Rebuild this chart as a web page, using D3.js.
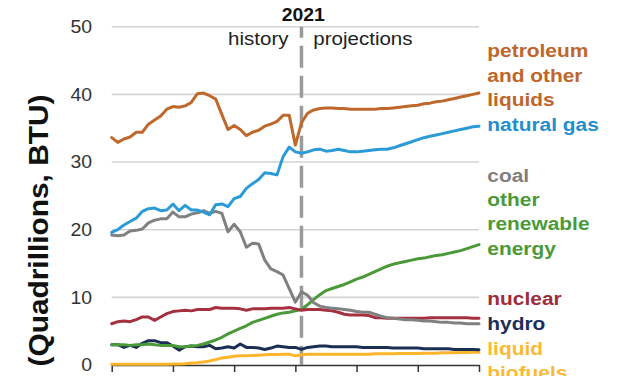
<!DOCTYPE html>
<html><head><meta charset="utf-8">
<script src="https://cdn.jsdelivr.net/npm/d3@7/dist/d3.min.js"></script>
<style>body{margin:0;background:#fff;}svg{display:block;font-family:"Liberation Sans",Arial,sans-serif;}</style>
</head><body><svg id="c" width="627" height="376"></svg>
<script>
const startYear = 1990, endYear = 2050, splitYear = 2021;
const yTicks = [0, 10, 20, 30, 40, 50];
const xTicks = [1990, 2000, 2010, 2020, 2030, 2040, 2050];

const petroleum = [33.6,32.9,33.4,33.7,34.4,34.4,35.6,36.2,36.8,37.8,38.2,38.1,38.3,38.8,40.1,40.2,39.8,39.3,37.0,34.8,35.4,34.8,33.9,34.4,34.7,35.3,35.6,36.0,36.9,36.9,32.5,35.8,
  37.2,37.7,37.9,38.0,38.0,37.9,37.9,37.8,37.8,37.8,37.8,37.8,37.9,37.9,38.0,38.1,38.2,38.3,38.4,38.6,38.7,38.9,39.0,39.2,39.4,39.6,39.8,40.0,40.2];
const naturalGas = [19.6,20.0,20.7,21.2,21.7,22.7,23.1,23.2,22.8,22.9,23.8,22.8,23.6,22.9,22.9,22.6,22.2,23.7,23.8,23.4,24.6,24.9,26.1,26.8,27.4,28.4,28.3,28.1,30.8,32.2,31.5,31.3,
  31.5,31.8,31.9,31.6,31.7,31.9,31.7,31.5,31.5,31.6,31.7,31.8,31.9,31.9,32.1,32.4,32.7,33.0,33.3,33.6,33.8,34.0,34.2,34.4,34.6,34.8,35.0,35.2,35.3];
const coal = [19.2,19.1,19.2,19.8,19.9,20.1,21.0,21.4,21.6,21.6,22.6,21.9,21.9,22.3,22.5,22.8,22.4,22.7,22.4,19.7,20.8,19.7,17.4,18.0,17.9,15.5,14.2,13.8,13.3,11.3,9.3,10.8,
  10.3,9.2,8.7,8.5,8.4,8.3,8.2,8.1,7.9,7.8,7.8,7.5,7.2,7.0,6.9,6.8,6.7,6.7,6.6,6.5,6.5,6.4,6.3,6.3,6.2,6.2,6.1,6.1,6.1];
const otherRenewable = [3.0,3.0,3.0,2.9,3.0,3.0,3.1,3.0,2.9,2.9,2.9,2.7,2.7,2.8,2.9,3.1,3.4,3.7,4.1,4.6,5.0,5.4,5.8,6.3,6.6,6.9,7.2,7.5,7.7,7.8,8.0,8.2,
  8.9,9.7,10.4,11.0,11.3,11.6,11.9,12.3,12.7,13.0,13.4,13.8,14.2,14.6,14.9,15.1,15.3,15.5,15.7,15.8,16.0,16.2,16.3,16.5,16.7,16.9,17.2,17.5,17.8];
const nuclear = [6.1,6.4,6.5,6.4,6.7,7.1,7.1,6.6,7.1,7.6,7.9,8.0,8.1,8.0,8.2,8.2,8.2,8.5,8.4,8.4,8.4,8.3,8.1,8.3,8.3,8.3,8.4,8.4,8.4,8.5,8.3,8.1,
  8.2,8.2,8.2,8.1,8.0,7.8,7.5,7.4,7.4,7.4,7.3,7.0,7.0,6.9,6.9,6.9,6.9,6.9,6.9,6.9,7.0,7.0,7.0,7.0,7.0,7.0,7.0,6.9,6.9];
const hydro = [3.0,3.0,2.6,2.9,2.6,3.2,3.6,3.6,3.3,3.3,2.8,2.2,2.7,2.8,2.7,2.7,2.9,2.4,2.5,2.7,2.5,3.1,2.6,2.6,2.5,2.3,2.5,2.8,2.7,2.6,2.6,2.3,
  2.6,2.7,2.8,2.8,2.7,2.7,2.7,2.7,2.7,2.6,2.6,2.6,2.6,2.6,2.5,2.5,2.5,2.5,2.5,2.4,2.4,2.4,2.4,2.4,2.3,2.3,2.3,2.3,2.25];
const liquidBiofuels = [0.1,0.1,0.1,0.1,0.1,0.1,0.1,0.1,0.1,0.1,0.15,0.15,0.2,0.3,0.35,0.45,0.6,0.8,1.05,1.15,1.3,1.35,1.35,1.4,1.45,1.5,1.55,1.55,1.6,1.6,1.35,1.5,
  1.6,1.6,1.6,1.6,1.6,1.6,1.6,1.6,1.6,1.6,1.6,1.65,1.65,1.65,1.65,1.7,1.7,1.7,1.7,1.75,1.75,1.75,1.8,1.8,1.8,1.85,1.85,1.9,1.9];

const seriesNames = ["liquid biofuels","hydro","other renewable energy","nuclear","coal","natural gas","petroleum and other liquids"];
const seriesValues = [liquidBiofuels, hydro, otherRenewable, nuclear, coal, naturalGas, petroleum];
const lineColors = ["#FDB52B","#1B2F55","#4B9A39","#A5303F","#808080","#2B9BD7","#C0682C"];
const labelLines = [["liquid","biofuels"],["hydro"],["other","renewable","energy"],["nuclear"],["coal"],["natural gas"],["petroleum","and other","liquids"]];
const labelColors = ["#FDB933","#1E2D5A","#4A9A38","#A02B3B","#7F7F7F","#1F8FD0","#C0662B"];
const labelBaselines = [355, 330, 206, 305, 181.5, 131, 57.3];

const yTitle = "(Quadrillions, BTU)";
const splitLabel = "2021", leftLabel = "history", rightLabel = "projections";

const svg = d3.select("#c");
const x = d3.scaleLinear().domain([startYear, endYear]).range([111.7, 479]);
const y = d3.scaleLinear().domain([0, 50]).range([365, 26.7]);
const SX = 1.11;

// gridlines
svg.append("g").selectAll("line").data(yTicks.filter(d => d > 0)).join("line")
  .attr("x1", x(startYear)).attr("x2", x(endYear))
  .attr("y1", d => y(d)).attr("y2", d => y(d))
  .attr("stroke", "#d3d3d8").attr("stroke-width", 1.6);

// y tick labels
svg.append("g").selectAll("text").data(yTicks).join("text")
  .attr("transform", d => `translate(92,${y(d) + 6.3}) scale(${SX},1)`)
  .attr("text-anchor", "end").attr("font-size", 17.5).attr("fill", "#333")
  .text(d => d);

// y title
svg.append("text")
  .attr("transform", "translate(48,230.5) rotate(-90)")
  .attr("text-anchor", "middle").attr("font-size", 27.5).attr("font-weight", "bold")
  .attr("fill", "#111").attr("textLength", 272).attr("lengthAdjust", "spacingAndGlyphs")
  .text(yTitle);

// x axis
const xAxis = svg.append("g").attr("transform", `translate(0,${y(0)})`)
  .call(d3.axisBottom(x).tickValues(xTicks).tickSize(7).tickSizeOuter(0).tickFormat(""));
xAxis.select(".domain").attr("stroke", "#333").attr("stroke-width", 1.5);
xAxis.selectAll(".tick line").attr("stroke", "#333").attr("stroke-width", 1.5);

// dashed split line
svg.append("line")
  .attr("x1", x(splitYear)).attr("x2", x(splitYear))
  .attr("y1", y(50)).attr("y2", y(0))
  .attr("stroke", "#9a9a9a").attr("stroke-width", 3.5)
  .attr("stroke-dasharray", "22 8").attr("stroke-dashoffset", 11);

// split labels
svg.append("text").attr("transform", `translate(303.3,20.7) scale(${SX},1)`)
  .attr("text-anchor", "middle").attr("font-size", 17.5).attr("font-weight", "bold").attr("fill", "#111")
  .text(splitLabel);
svg.append("text").attr("transform", `translate(288.5,45) scale(${SX},1)`)
  .attr("text-anchor", "end").attr("font-size", 18.5).attr("fill", "#222").text(leftLabel);
svg.append("text").attr("transform", `translate(313.3,45) scale(${SX},1)`)
  .attr("text-anchor", "start").attr("font-size", 18.5).attr("fill", "#222").text(rightLabel);

// lines
const line = d3.line().x((d, i) => x(startYear + i)).y(d => y(d));
svg.append("g").selectAll("path").data(seriesValues).join("path")
  .attr("d", d => line(d))
  .attr("fill", "none")
  .attr("stroke", (d, i) => lineColors[i])
  .attr("stroke-width", 3)
  .attr("stroke-linejoin", "round").attr("stroke-linecap", "round");

// right labels
const lg = svg.append("g");
seriesNames.forEach((name, i) => {
  labelLines[i].forEach((t, j) => {
    lg.append("text")
      .attr("transform", `translate(487.3,${labelBaselines[i] + j * 24.4}) scale(1.1,1)`)
      .attr("font-size", 19).attr("font-weight", "bold")
      .attr("fill", labelColors[i]).text(t);
  });
});
</script></body></html>
